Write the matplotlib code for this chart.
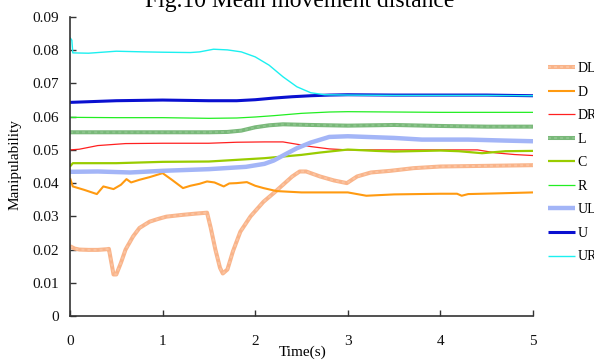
import matplotlib
matplotlib.use('Agg')
import matplotlib.pyplot as plt
from matplotlib.legend_handler import HandlerTuple

plt.rcParams['font.family'] = ['Liberation Serif', 'DejaVu Serif']

# ---- data ----
t_dl = [0, 0.05, 0.1, 0.2, 0.3, 0.4, 0.42, 0.47, 0.5, 0.55, 0.6, 0.68, 0.75, 0.86, 0.95,
        1.04, 1.2, 1.35, 1.48, 1.52, 1.57, 1.62, 1.65, 1.7, 1.76, 1.84, 1.95, 2.09, 2.2,
        2.3, 2.4, 2.48, 2.55, 2.7, 2.85, 2.99, 3.1, 3.25, 3.46, 3.71, 4.0, 4.5, 5.0]
dl = [0.0210, 0.0203, 0.0200, 0.0199, 0.0199, 0.0201, 0.0202, 0.0125, 0.0125, 0.0160,
      0.0200, 0.0239, 0.0265, 0.0284, 0.0292, 0.0299, 0.0304, 0.0308, 0.0311, 0.0265,
      0.0200, 0.0145, 0.0128, 0.0140, 0.0195, 0.0254, 0.0300, 0.0344, 0.0370, 0.0395,
      0.0420, 0.0435, 0.0435, 0.0420, 0.0408, 0.0400, 0.0420, 0.0432, 0.0437, 0.0445,
      0.0450, 0.0452, 0.0454]

t_d = [0, 0.03, 0.15, 0.29, 0.36, 0.47, 0.55, 0.61, 0.66, 0.75, 0.86, 1.0, 1.1, 1.22,
       1.3, 1.4, 1.48, 1.56, 1.66, 1.72, 1.8, 1.91, 2.0, 2.09, 2.23, 2.5, 3.0, 3.2, 3.5,
       4.0, 4.18, 4.23, 4.3, 4.6, 5.0]
d = [0.0415, 0.0390, 0.0380, 0.0367, 0.0390, 0.0382, 0.0395, 0.0412, 0.0402, 0.0410,
     0.0418, 0.0430, 0.0410, 0.0385, 0.0392, 0.0398, 0.0405, 0.0402, 0.0390, 0.0399,
     0.0400, 0.0403, 0.0392, 0.0385, 0.0376, 0.0372, 0.0372, 0.0362, 0.0366, 0.0368,
     0.0368, 0.0362, 0.0367, 0.0369, 0.0372]

t_dr = [0, 0.1, 0.3, 0.6, 1.0, 1.5, 1.8, 2.1, 2.3, 2.45, 2.6, 2.8, 3.0, 3.5, 4.0, 4.4,
        4.6, 4.8, 5.0]
dr = [0.0500, 0.0502, 0.0513, 0.0519, 0.0520, 0.0520, 0.0523, 0.0524, 0.0524, 0.0517,
      0.0510, 0.0503, 0.0500, 0.0500, 0.0500, 0.0500, 0.0491, 0.0486, 0.0483]

t_l = [0, 0.5, 1.0, 1.5, 1.7, 1.85, 2.0, 2.15, 2.3, 2.6, 3.0, 3.5, 4.0, 4.5, 5.0]
l = [0.0553, 0.0553, 0.0553, 0.0553, 0.0554, 0.0558, 0.0568, 0.0574, 0.0577, 0.0575,
     0.0573, 0.0575, 0.0572, 0.0570, 0.0570]

t_c = [0, 0.03, 0.5, 1.0, 1.5, 1.8, 2.1, 2.3, 2.5, 2.7, 3.0, 3.3, 3.5, 4.0, 4.2, 4.45,
       4.7, 5.0]
c = [0.0450, 0.0460, 0.0460, 0.0464, 0.0465, 0.0470, 0.0475, 0.0480, 0.0485, 0.0492,
     0.0501, 0.0497, 0.0495, 0.0498, 0.0496, 0.0490, 0.0496, 0.0497]

t_r = [0, 0.5, 1.0, 1.5, 1.8, 2.0, 2.2, 2.5, 2.8, 3.0, 3.5, 4.0, 4.5, 5.0]
r = [0.0598, 0.0597, 0.0597, 0.0595, 0.0596, 0.0599, 0.0603, 0.0610, 0.0614, 0.0615,
     0.0614, 0.0613, 0.0613, 0.0613]

t_ul = [0, 0.3, 0.65, 1.0, 1.5, 1.9, 2.1, 2.2, 2.3, 2.45, 2.6, 2.8, 3.0, 3.5, 3.8, 4.3,
        4.7, 5.0]
ul = [0.0434, 0.0435, 0.0432, 0.0437, 0.0442, 0.0449, 0.0458, 0.0468, 0.0483, 0.0505,
      0.0522, 0.0539, 0.0541, 0.0536, 0.0531, 0.0531, 0.0528, 0.0526]

t_u = [0, 0.1, 0.5, 1.0, 1.5, 1.8, 2.0, 2.2, 2.4, 2.6, 2.8, 3.0, 3.5, 4.0, 4.5, 5.0]
u = [0.0643, 0.0644, 0.0648, 0.0650, 0.0648, 0.0648, 0.0651, 0.0656, 0.0660, 0.0663,
     0.0665, 0.0666, 0.0665, 0.0665, 0.0665, 0.0663]

t_ur = [0, 0.02, 0.03, 0.2, 0.5, 0.8, 1.0, 1.3, 1.4, 1.55, 1.7, 1.85, 2.0, 2.15, 2.3,
        2.45, 2.6, 2.75, 3.0, 3.5, 4.0, 4.5, 5.0]
ur = [0.0838, 0.0830, 0.0792, 0.0791, 0.0797, 0.0795, 0.0794, 0.0793, 0.0795, 0.0803,
      0.0801, 0.0795, 0.0780, 0.0755, 0.0720, 0.0690, 0.0672, 0.0666, 0.0665, 0.0664,
      0.0664, 0.0664, 0.0663]

# (label, t, y, color, linewidth, texture colour or None)
series = [
    ('DL', t_dl, dl, '#F9B48A', 2.9, '#FBC3A0'),
    ('D', t_d, d, '#FF9A10', 1.5, None),
    ('DR', t_dr, dr, '#FF2020', 0.9, None),
    ('L', t_l, l, '#79B879', 2.9, '#8CC48C'),
    ('C', t_c, c, '#99CC00', 1.6, None),
    ('R', t_r, r, '#22EE22', 0.9, None),
    ('UL', t_ul, ul, '#A3B5F7', 3.2, None),
    ('U', t_u, u, '#0A10D0', 2.2, None),
    ('UR', t_ur, ur, '#1CF0F0', 1.0, None),
]

fig = plt.figure(figsize=(5.94, 3.61), dpi=100)
ax = fig.add_axes([70 / 594, 1 - 316 / 361, 463 / 594, 299 / 361])

handles, labels = [], []
for name, tx, vals, col, lw, tex in series:
    ln, = ax.plot(tx, vals, color=col, linewidth=lw, solid_capstyle='butt')
    if tex is not None:
        ov, = ax.plot(tx, vals, color=tex, linewidth=lw * 0.5, dashes=(1.5, 1.5))
        handles.append((ln, ov))
    else:
        handles.append(ln)
    labels.append(name)

ax.set_xlim(0, 5)
ax.set_ylim(0, 0.09)
ax.set_xticks([0, 1, 2, 3, 4, 5])
ax.set_yticks([0, 0.01, 0.02, 0.03, 0.04, 0.05, 0.06, 0.07, 0.08, 0.09])
ax.set_yticklabels(['0', '0.01', '0.02', '0.03', '0.04', '0.05', '0.06', '0.07', '0.08', '0.09'])

for side in ('top', 'right'):
    ax.spines[side].set_visible(False)
for side in ('left', 'bottom'):
    ax.spines[side].set_color('#333333')
    ax.spines[side].set_linewidth(1.2)
ax.tick_params(axis='both', direction='in', length=4, width=1, colors='#333333',
               labelsize=11, labelcolor='#111111')
ax.tick_params(axis='x', pad=14)
ax.tick_params(axis='y', pad=8)

fig.text(300 / 594, 1 - 7 / 361, 'Fig.10 Mean movement distance', ha='center',
         va='baseline', fontsize=17)
fig.text(303 / 594, 1 - 352 / 361, 'Time(s)', ha='center', va='center', fontsize=11)
fig.text(15 / 594, 1 - 165 / 361, 'Manipulability', ha='center', va='center',
         rotation=90, fontsize=11)

leg = ax.legend(handles, labels, loc='upper left',
                bbox_to_anchor=(548 / 594, 1 - 62 / 361), bbox_transform=fig.transFigure,
                frameon=False, fontsize=10, handlelength=1.95, handletextpad=0.2,
                labelspacing=0.76, borderpad=0, borderaxespad=0,
                handler_map={tuple: HandlerTuple(ndivide=1)})

fig.savefig('out.png', dpi=100)
